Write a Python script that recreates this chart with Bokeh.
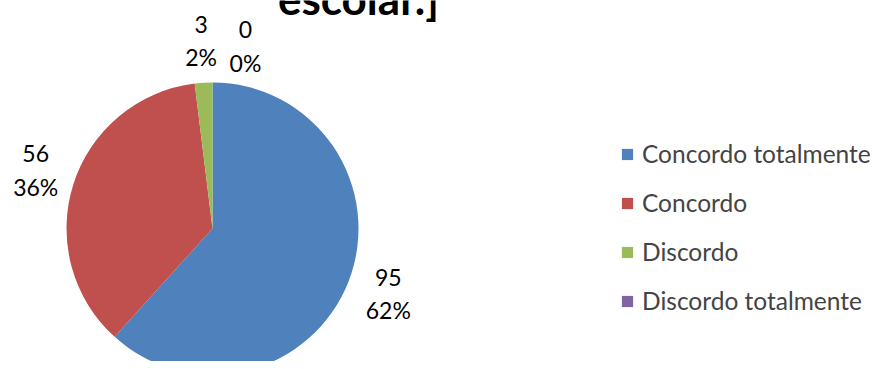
import math
from bokeh.plotting import figure
from bokeh.models import ColumnDataSource, Legend, LegendItem, Range1d
from bokeh.core.properties import value
from bokeh.embed import file_html
from bokeh.resources import INLINE

# ---- data ----
categories = ["Concordo totalmente", "Concordo", "Discordo", "Discordo totalmente"]
counts = [95, 56, 3, 0]
percent_labels = ["62%", "36%", "2%", "0%"]
colors = ["#4F81BD", "#C0504D", "#9BBB59", "#8064A2"]
title_text = "escolar.]"

# ---- layout (pixel-like data space) ----
W, H = 870, 361
cx, cy, R = 212, 133, 146
label_r = [1.29, 1.27, 1.27, 1.23]   # label distance factors
label_dx = [0, 0, 0, 33]             # nudge for crowded small slices

total = sum(counts)
starts, ends, lx, ly = [], [], [], []
cum = 0.0
for i, c in enumerate(counts):
    f0 = cum / total
    f1 = (cum + c) / total
    cum += c
    starts.append(math.pi / 2 - 2 * math.pi * f1)
    ends.append(math.pi / 2 - 2 * math.pi * f0)
    mid = math.pi / 2 - 2 * math.pi * (f0 + f1) / 2
    lx.append(cx + R * label_r[i] * math.cos(mid) + label_dx[i])
    ly.append(cy + R * label_r[i] * math.sin(mid))

src = ColumnDataSource(dict(cat=categories, start=starts, end=ends, color=colors,
                            lx=lx, ly=ly, cnt=[str(c) for c in counts], pct=percent_labels))

p = figure(width=W, height=H, output_backend="svg", toolbar_location=None,
           x_range=Range1d(0, W), y_range=Range1d(0, H), min_border=0)
p.axis.visible = False
p.grid.visible = False
p.outline_line_color = None

wedges = []
for i in range(len(categories)):
    # a zero-sized slice draws nothing (Bokeh would draw equal angles as a full circle)
    rad = R if counts[i] > 0 else 0
    r = p.wedge(x=cx, y=cy, radius=rad, start_angle=starts[i], end_angle=ends[i],
                direction="anticlock", fill_color=colors[i], line_color=None)
    wedges.append(r)

font = value("Lato")
p.text(x="lx", y="ly", text="cnt", source=src, text_font=font, text_font_size="23px",
       text_align="center", text_baseline="middle", color="black", y_offset=-19)
p.text(x="lx", y="ly", text="pct", source=src, text_font=font, text_font_size="23px",
       text_align="center", text_baseline="middle", color="black", y_offset=14)

p.text(x=[358], y=[364], text=[title_text], text_font=font, text_font_size="44px",
       text_font_style="bold", text_align="center", text_baseline="alphabetic", color="black")

legend = Legend(items=[LegendItem(label=categories[i], renderers=[wedges[i]]) for i in range(len(categories))],
                location=(620, 46), label_text_font="Lato", label_text_font_size="24.5px",
                glyph_width=14, glyph_height=14, label_standoff=8, spacing=20,
                padding=0, margin=0, border_line_color=None, background_fill_alpha=0)
p.add_layout(legend, "center")

open("out.html", "w").write(file_html(p, INLINE))
